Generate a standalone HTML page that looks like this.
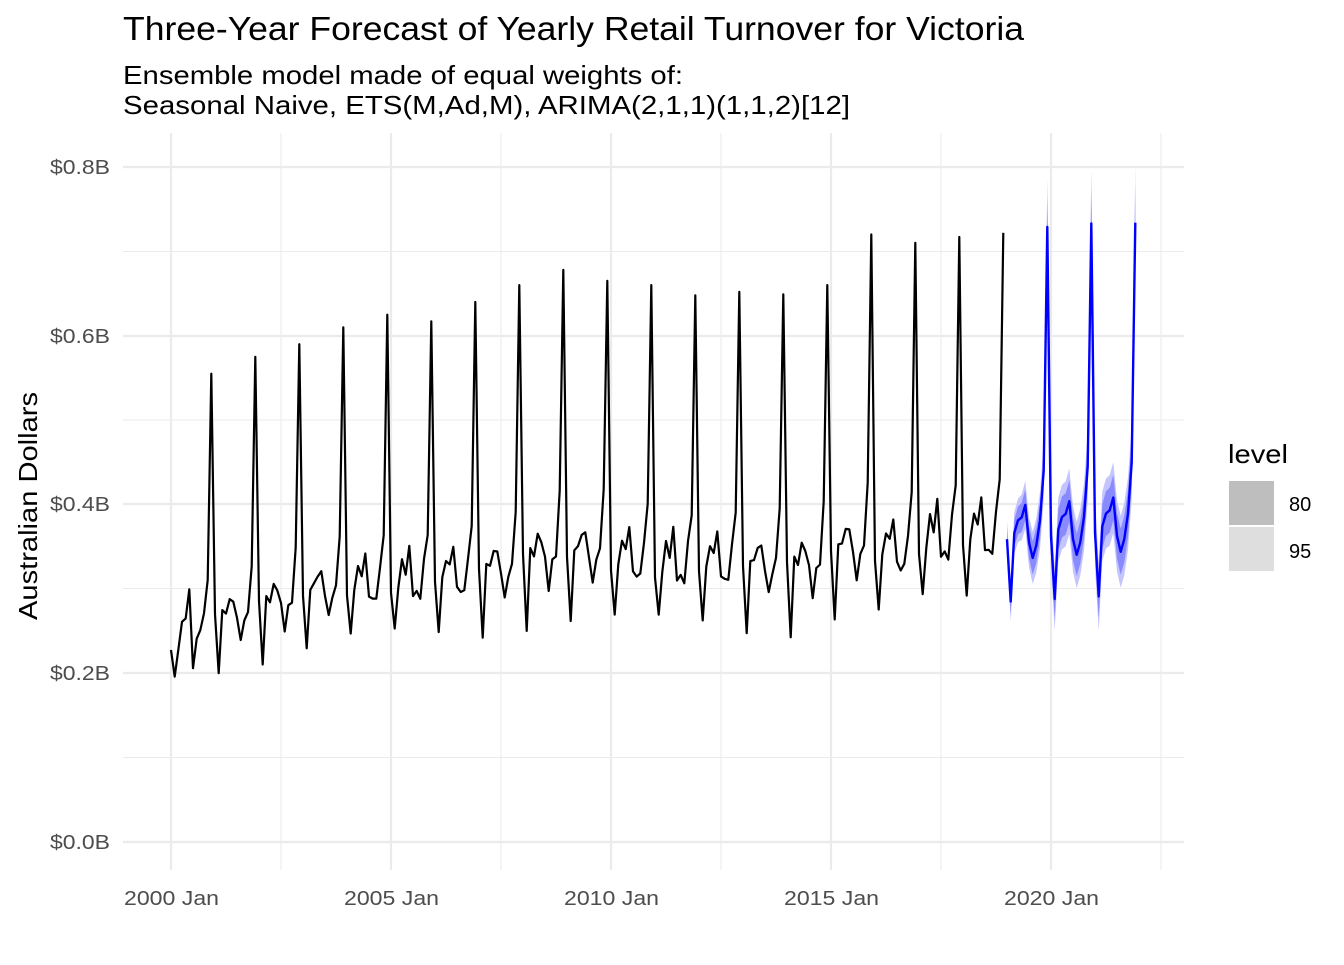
<!DOCTYPE html>
<html><head><meta charset="utf-8"><style>
html,body{margin:0;padding:0;background:#fff;}
svg text{font-family:"Liberation Sans",Arial,sans-serif;}
</style></head><body>
<svg id="c" width="1344" height="960" xmlns="http://www.w3.org/2000/svg">
<rect width="1344" height="960" fill="#fff"/>
<g id="grid"></g>
<g id="bands"></g>
<g id="lines"></g>
<text x="123" y="40" font-size="33" fill="#000" textLength="901" lengthAdjust="spacingAndGlyphs">Three-Year Forecast of Yearly Retail Turnover for Victoria</text>
<text x="123" y="84" font-size="26" fill="#000" textLength="560" lengthAdjust="spacingAndGlyphs">Ensemble model made of equal weights of:</text>
<text x="123" y="114" font-size="26" fill="#000" textLength="727" lengthAdjust="spacingAndGlyphs">Seasonal Naive, ETS(M,Ad,M), ARIMA(2,1,1)(1,1,2)[12]</text>
<g font-size="20" fill="#4d4d4d" text-anchor="end">
<text x="110" y="174" textLength="60" lengthAdjust="spacingAndGlyphs">$0.8B</text>
<text x="110" y="343" textLength="60" lengthAdjust="spacingAndGlyphs">$0.6B</text>
<text x="110" y="511" textLength="60" lengthAdjust="spacingAndGlyphs">$0.4B</text>
<text x="110" y="680" textLength="60" lengthAdjust="spacingAndGlyphs">$0.2B</text>
<text x="110" y="849" textLength="60" lengthAdjust="spacingAndGlyphs">$0.0B</text>
</g>
<g font-size="20" fill="#4d4d4d">
<text x="124" y="905" textLength="95" lengthAdjust="spacingAndGlyphs">2000 Jan</text>
<text x="344" y="905" textLength="95" lengthAdjust="spacingAndGlyphs">2005 Jan</text>
<text x="564" y="905" textLength="95" lengthAdjust="spacingAndGlyphs">2010 Jan</text>
<text x="784" y="905" textLength="95" lengthAdjust="spacingAndGlyphs">2015 Jan</text>
<text x="1004" y="905" textLength="95" lengthAdjust="spacingAndGlyphs">2020 Jan</text>
</g>
<text transform="translate(37,620) rotate(-90)" font-size="26" fill="#000" textLength="228" lengthAdjust="spacingAndGlyphs">Australian Dollars</text>
<text x="1228" y="463" font-size="26" fill="#000" textLength="60" lengthAdjust="spacingAndGlyphs">level</text>
<rect x="1229" y="481" width="45" height="44" fill="#bebebe"/>
<rect x="1229" y="527" width="45" height="44" fill="#dedede"/>
<text x="1289" y="511" font-size="20" fill="#000">80</text>
<text x="1289" y="558" font-size="20" fill="#000">95</text>
</svg>
<script>
var NS="http://www.w3.org/2000/svg";
function el(p,t,a){var e=document.createElementNS(NS,t);for(var k in a)e.setAttribute(k,a[k]);document.getElementById(p).appendChild(e);return e;}
function X(m){return 171+m*44/12;}
function Y(v){return 842-v*843.75;}
[167,336,504,673,842].forEach(function(y){el("grid","line",{x1:123,x2:1184,y1:y,y2:y,stroke:"#ebebeb","stroke-width":2.2});});
[251.5,420,588.5,757.5].forEach(function(y){el("grid","line",{x1:123,x2:1184,y1:y,y2:y,stroke:"#ebebeb","stroke-width":1.1});});
[171,391,611,831,1051].forEach(function(x){el("grid","line",{x1:x,x2:x,y1:133,y2:870,stroke:"#ebebeb","stroke-width":2.2});});
[281,501,721,941,1161].forEach(function(x){el("grid","line",{x1:x,x2:x,y1:133,y2:870,stroke:"#ebebeb","stroke-width":1.1});});
var shape=[0.97,0.77,0.99,1.03,1.04,1.08,0.96,0.91,0.95,1.03,1.19];
var L=[0.25,0.27,0.285,0.30,0.31,0.315,0.32,0.325,0.34,0.345,0.34,0.335,0.335,0.33,0.33,0.35,0.35,0.365,0.37];
var P=[0.555,0.575,0.59,0.61,0.625,0.617,0.64,0.66,0.678,0.665,0.66,0.648,0.652,0.649,0.66,0.72,0.71,0.717,0.722];
var d=[];
for(var yr=0;yr<19;yr++){for(var m=0;m<11;m++){var n=Math.sin(yr*7.3+m*3.1)*0.035;d.push(L[yr]*(shape[m]+n));}d.push(P[yr]);}
d[0]=0.2276;d[1]=0.196;d[2]=0.2276;d[3]=0.261;d[4]=0.265;d[5]=0.2995;d[6]=0.206;d[7]=0.241;d[8]=0.251;d[9]=0.271;d[10]=0.3105;
var s="";d.forEach(function(v,i){s+=(i?"L":"M")+X(i).toFixed(1)+","+Y(v).toFixed(1);});
el("lines","path",{d:s,fill:"none",stroke:"#000","stroke-width":2.2,"stroke-linejoin":"round"});
var FL=[0.37,0.374,0.378],FP=[0.729,0.733,0.734];
var f=[];for(var y2=0;y2<3;y2++){for(var m2=0;m2<11;m2++)f.push(FL[y2]*shape[m2]);f.push(FP[y2]);}
function band(k,col){var up="",lo="";
 for(var i=0;i<36;i++){var w=(0.022+0.012*Math.min(i,12)/12+0.01*i/36)*k*(i%12==11?1.6:1);up+=(i?"L":"M")+X(228+i).toFixed(1)+","+Y(f[i]+w).toFixed(1);}
 for(var i=35;i>=0;i--){var w=(0.022+0.012*Math.min(i,12)/12+0.01*i/36)*k*(i%12==11?1.6:1);lo+="L"+X(228+i).toFixed(1)+","+Y(f[i]-w).toFixed(1);}
 el("bands","path",{d:up+lo+"Z",fill:col});}
band(1,"#c4c4ff");band(0.64,"#8a8aff");
var t="";f.forEach(function(v,i){t+=(i?"L":"M")+X(228+i).toFixed(1)+","+Y(v).toFixed(1);});
el("lines","path",{d:t,fill:"none",stroke:"#0000ff","stroke-width":2.4,"stroke-linejoin":"round"});
</script>
</body></html>
